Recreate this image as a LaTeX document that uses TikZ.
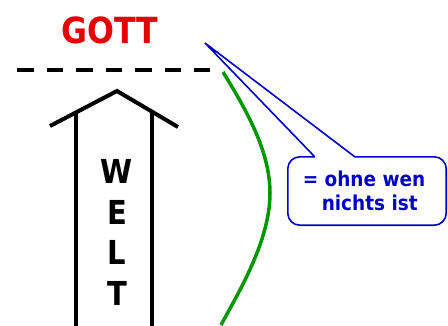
\documentclass[tikz,border=0pt]{standalone}
\usepackage{fontspec}
\setmainfont{DejaVu Sans}
\newfontfamily\schmal[FakeStretch=0.9]{DejaVu Sans}
\newfontfamily\gottschmal[FakeStretch=0.88]{DejaVu Sans}
\usetikzlibrary{calc}
\definecolor{gottrot}{RGB}{232,0,0}
\definecolor{sprechblau}{RGB}{0,0,200}
\definecolor{weltgruen}{RGB}{0,150,0}

\begin{document}
\begin{tikzpicture}[x=1pt,y=-1pt,
  buchstabe/.style={inner sep=0pt, font=\gottschmal\fontsize{33}{33}\selectfont\bfseries},
  dicke/.style={line width=4pt},
  sprechrand/.style={sprechblau, line width=1.6pt, line join=miter}]
\useasboundingbox (0,0) rectangle (448,325);
%% Gott
\node[inner sep=0pt, text=gottrot, font=\gottschmal\fontsize{36}{36}\selectfont\bfseries] (gott) at (110,30) {GOTT};
%% Grenze (gestrichelt)
\draw[dicke, dash pattern=on 16.5pt off 13pt] (17,70) -- (210,70);
%% Pfeil nach oben
\draw[dicke, line join=miter] (50,126) -- (117,91) -- (178,127);
\draw[dicke] (76,112) -- (76,330)(152,112) -- (152,330);
%% Buchstaben
\node[buchstabe] (welt-w) at (117,171.5) {W};
\node[buchstabe] (welt-e) at (117,212) {E};
\node[buchstabe] (welt-l) at (117,252.5) {L};
\node[buchstabe] (welt-t) at (117,293) {T};
%% gruene Kurve
\draw[weltgruen, line width=3.5pt] (223,72) .. controls (245,108) and (270,150) .. (270,193)
  .. controls (270,240) and (240,290) .. (221,325);
%% Sprechblase
\coordinate (spitze) at (205,43);
\node[inner sep=0pt, minimum width=158pt, minimum height=68pt, align=left,
  text=sprechblau, font=\schmal\fontsize{20.5}{24.5}\selectfont\bfseries] (sprech) at (367,191)
  {= ohne wen\hspace*{6pt}\\\hspace*{19pt}nichts ist};
\draw[sprechrand] ([xshift=27pt]sprech.north west) -- (spitze) -- ([xshift=67pt]sprech.north west)
  [rounded corners=12pt] -- (sprech.north east) -- (sprech.south east) -- (sprech.south west)
  -- (sprech.north west) -- ([xshift=27pt]sprech.north west);
\end{tikzpicture}
\end{document}
